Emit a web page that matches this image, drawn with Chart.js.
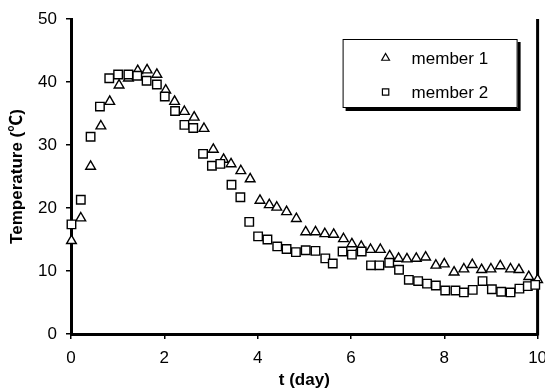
<!DOCTYPE html>
<html>
<head>
<meta charset="utf-8">
<script src="https://cdn.jsdelivr.net/npm/chart.js@4/dist/chart.umd.min.js"></script>
<style>
  html, body { margin: 0; padding: 0; background: #fff; }
</style>
</head>
<body>
<canvas id="tempChart" width="545" height="392"></canvas>
<script>
// Sampling times (day) and temperatures (°C) for each member
const dayMember1 = [0.01, 0.21, 0.42, 0.64, 0.83, 1.03, 1.23, 1.43, 1.63, 1.84, 2.03, 2.22, 2.43, 2.64, 2.85, 3.05, 3.27, 3.43, 3.64, 3.84,
  4.05, 4.25, 4.41, 4.62, 4.83, 5.03, 5.24, 5.44, 5.63, 5.84, 6.02, 6.22, 6.42, 6.63, 6.83, 7.02, 7.2, 7.4, 7.6, 7.82,
  8.0, 8.21, 8.42, 8.6, 8.8, 9.0, 9.2, 9.42, 9.6, 9.81, 10.0];
const tempMember1 = [14.8, 18.4, 26.6, 33.0, 36.9, 39.5, 40.6, 41.8, 41.9, 41.2, 38.7, 36.9, 35.3, 34.4, 32.6, 29.3, 27.7, 27.0, 25.9, 24.6,
  21.2, 20.5, 20.1, 19.4, 18.3, 16.2, 16.2, 15.9, 15.8, 15.1, 14.3, 13.9, 13.4, 13.4, 12.4, 12.0, 11.9, 12.0, 12.2, 10.9,
  11.1, 9.8, 10.3, 11.0, 10.2, 10.3, 10.8, 10.3, 10.2, 9.1, 8.6];

const dayMember2 = [0.01, 0.21, 0.42, 0.62, 0.82, 1.01, 1.23, 1.42, 1.62, 1.84, 2.01, 2.23, 2.43, 2.62, 2.83, 3.02, 3.2, 3.44, 3.63, 3.82,
  4.01, 4.21, 4.42, 4.62, 4.82, 5.03, 5.24, 5.45, 5.61, 5.82, 6.02, 6.23, 6.43, 6.61, 6.82, 7.03, 7.24, 7.44, 7.63, 7.82,
  8.02, 8.24, 8.42, 8.61, 8.82, 9.02, 9.22, 9.42, 9.61, 9.79, 9.95];
const tempMember2 = [17.4, 21.3, 31.3, 36.1, 40.6, 41.2, 41.2, 41.0, 40.2, 39.6, 37.7, 35.4, 33.2, 32.7, 28.6, 26.7, 27.0, 23.7, 21.7, 17.8,
  15.5, 15.0, 13.9, 13.5, 13.0, 13.3, 13.2, 12.0, 11.2, 13.1, 12.6, 13.1, 10.9, 10.9, 11.3, 10.2, 8.6, 8.4, 8.0, 7.7,
  6.9, 6.9, 6.6, 7.0, 8.4, 7.1, 6.7, 6.6, 7.2, 7.6, 7.8];

const seriesLabels = ["member 1", "member 2"];
const xTicks = [0, 2, 4, 6, 8, 10];
const yTicks = [0, 10, 20, 30, 40, 50];

const toPoints = (xs, ys) => xs.map((x, i) => ({ x: x, y: ys[i] }));

// right edge of the plot box and the boxed legend with its drop shadow
const frameAndLegend = {
  id: "frameAndLegend",
  beforeDatasetsDraw(chart) {
    const { ctx, chartArea } = chart;
    ctx.save();
    ctx.strokeStyle = "#000";
    ctx.lineWidth = 3;
    ctx.beginPath();
    ctx.moveTo(chartArea.right, chartArea.top);
    ctx.lineTo(chartArea.right, chartArea.bottom + 1.5);
    ctx.stroke();
    ctx.restore();
  },
  afterDatasetsDraw(chart) {
    const { ctx, chartArea } = chart;
    const boxW = 175, boxH = 69;
    const bx = chartArea.right - 20 - boxW;
    const by = chartArea.top + 20;
    ctx.save();
    ctx.fillStyle = "#000";
    ctx.fillRect(bx + 3, by + 3, boxW, boxH);
    ctx.fillStyle = "#fff";
    ctx.fillRect(bx, by, boxW, boxH);
    ctx.strokeStyle = "#000";
    ctx.lineWidth = 1;
    ctx.strokeRect(bx + 0.5, by + 0.5, boxW - 1, boxH - 1);

    ctx.font = "17px 'Liberation Sans', Arial, sans-serif";
    ctx.textBaseline = "middle";
    ctx.textAlign = "left";
    chart.data.datasets.forEach((ds, i) => {
      const cy = by + 19 + i * 34;
      const cx = bx + 43;
      ctx.fillStyle = "#fff";
      ctx.strokeStyle = "#000";
      ctx.lineWidth = 1.2;
      Chart.helpers.drawPoint(ctx, {
        pointStyle: ds.pointStyle,
        radius: 4.5,
        borderWidth: 1.2
      }, cx, cy);
      ctx.fillStyle = "#000";
      ctx.fillText(ds.label, bx + 69, cy + 1);
    });
    ctx.restore();
  }
};

const ctx = document.getElementById("tempChart").getContext("2d");
new Chart(ctx, {
  type: "scatter",
  data: {
    datasets: [
      {
        label: seriesLabels[0],
        data: toPoints(dayMember1, tempMember1),
        pointStyle: "triangle",
        pointRadius: 5.6,
        borderWidth: 1.4,
        borderColor: "#000",
        backgroundColor: "#fff",
        clip: false,
        order: 2
      },
      {
        label: seriesLabels[1],
        data: toPoints(dayMember2, tempMember2),
        pointStyle: "rect",
        pointRadius: 6,
        borderWidth: 1.4,
        borderColor: "#000",
        backgroundColor: "#fff",
        clip: false,
        order: 1
      }
    ]
  },
  options: {
    responsive: false,
    animation: false,
    layout: { padding: { top: 19, right: 7, left: 0, bottom: 0 } },
    plugins: {
      legend: { display: false },
      tooltip: { enabled: false }
    },
    scales: {
      x: {
        type: "linear",
        min: 0,
        max: 10,
        afterBuildTicks: (scale) => { scale.ticks = xTicks.map((v) => ({ value: v })); },
        ticks: {
          color: "#000",
          padding: 9,
          font: { family: "'Liberation Sans', Arial, sans-serif", size: 17 }
        },
        grid: { drawOnChartArea: false, tickLength: 5, color: "#000", lineWidth: 1.5 },
        border: { color: "#000", width: 3 },
        title: {
          display: true,
          text: "t (day)",
          color: "#000",
          padding: { top: 0, bottom: 1 },
          font: { family: "'Liberation Sans', Arial, sans-serif", size: 17, weight: "bold" }
        },
        afterFit: (scale) => {
          scale.paddingLeft = 0;
          scale.paddingRight = 0;
          scale.height = 58;
        }
      },
      y: {
        min: 0,
        max: 50,
        afterBuildTicks: (scale) => { scale.ticks = yTicks.map((v) => ({ value: v })); },
        ticks: {
          color: "#000",
          padding: 9,
          font: { family: "'Liberation Sans', Arial, sans-serif", size: 17 }
        },
        grid: { drawOnChartArea: false, tickLength: 5, color: "#000", lineWidth: 1.5 },
        border: { color: "#000", width: 3 },
        title: {
          display: true,
          text: "Temperature (℃)",
          color: "#000",
          padding: { top: 7, bottom: 0 },
          font: { family: "'Liberation Sans', 'Noto Sans CJK JP', Arial, sans-serif", size: 17, weight: "bold" }
        },
        afterFit: (scale) => {
          scale.paddingTop = 0;
          scale.paddingBottom = 0;
          scale.width = 71;
        }
      }
    }
  },
  plugins: [frameAndLegend]
});
</script>
</body>
</html>
